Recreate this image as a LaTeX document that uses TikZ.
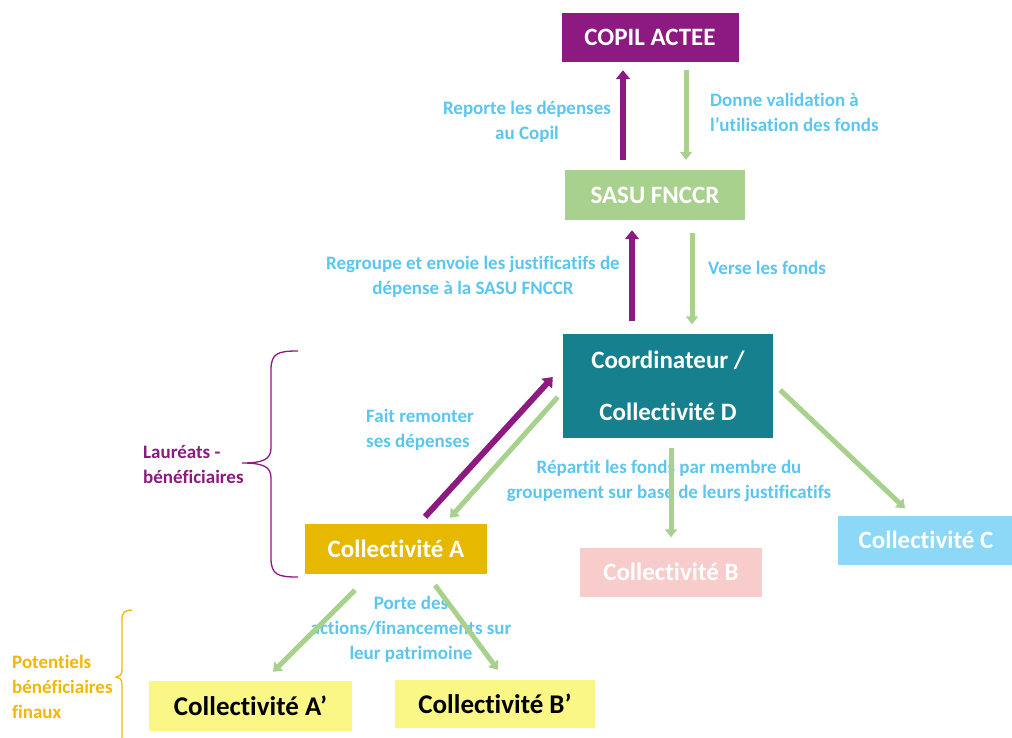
\documentclass[tikz,border=0pt]{standalone}
\usepackage{fontspec}
\setmainfont{Carlito}[Ligatures=NoCommon]
\usetikzlibrary{arrows.meta}
\definecolor{purp}{HTML}{8C1A80}
\definecolor{lgreen}{HTML}{A9D18E}
\definecolor{teal}{HTML}{17808E}
\definecolor{gold}{HTML}{E6B800}
\definecolor{pinkb}{HTML}{F9CCCC}
\definecolor{lblue}{HTML}{8CD8F6}
\definecolor{lyel}{HTML}{FAF787}
\definecolor{labc}{HTML}{5BC6EF}
\definecolor{goldt}{HTML}{F2B705}
\tikzset{
  box/.style={inner sep=0pt, font=\fontsize{25}{28}\selectfont\bfseries, text=white},
  lab/.style={inner sep=0pt, font=\fontsize{19}{25}\selectfont\bfseries, text=labc},
  uparr/.style={draw=purp, line width=6pt, -{Triangle[length=9pt,width=14pt]}},
  dnarr/.style={draw=lgreen, line width=5pt, -{Triangle[length=8pt,width=12pt]}},
}
\begin{document}
\begin{tikzpicture}[x=1pt,y=-1pt]
\useasboundingbox[fill=white] (0,0) rectangle (1012,737);
% boxes
\node[box, fill=purp, minimum width=177pt, minimum height=49pt] (copil) at (650,37.5) {COPIL ACTEE};
\node[box, fill=lgreen, minimum width=180pt, minimum height=50pt] (sasu) at (655,195) {SASU FNCCR};
\node[box, fill=teal, minimum width=210pt, minimum height=104pt, align=center, font=\fontsize{25}{52}\selectfont\bfseries] (coord) at (668,385.5) {Coordinateur /\\Collectivité D};
\node[box, fill=gold, minimum width=182pt, minimum height=50pt] (colA) at (396,549) {Collectivité A};
\node[box, fill=pinkb, minimum width=182pt, minimum height=49pt] (colB) at (671,572) {Collectivité B};
\node[box, fill=lblue, minimum width=176pt, minimum height=49pt] (colC) at (926,540) {Collectivité C};
\node[box, fill=lyel, text=black, minimum width=203pt, minimum height=50pt, font=\fontsize{27}{30}\selectfont\bfseries] (colAp) at (250.5,706) {Collectivité A’};
\node[box, fill=lyel, text=black, minimum width=200pt, minimum height=48pt, font=\fontsize{27}{30}\selectfont\bfseries] (colBp) at (495,704) {Collectivité B’};
% labels
\node[lab, align=center] (l1) at (527,122) {Reporte les dépenses\\au Copil};
\node[lab, align=left, anchor=west] (l2) at (710,112) {Donne validation à\\l’utilisation des fonds};
\node[lab, align=center] (l3) at (473,277) {Regroupe et envoie les justificatifs de\\dépense à la SASU FNCCR};
\node[lab, anchor=west] (l4) at (708,268) {Verse les fonds};
\node[lab, align=left, anchor=west] (l5) at (366,430) {Fait remonter\\ses dépenses};
\node[lab, align=center] (l6) at (669,481) {Répartit les fonds par membre du\\groupement sur base de leurs justificatifs};
\node[lab, align=center] (l7) at (411,629) {Porte des\\actions/financements sur\\leur patrimoine};
\node[lab, align=left, anchor=west, text=purp] (l8) at (143,465) {Lauréats -\\bénéficiaires};
\node[lab, align=left, anchor=west, text=goldt] (l9) at (12,687) {Potentiels\\bénéficiaires\\finaux};
% arrows
\draw[uparr] ([shift={(-32,-10)}]sasu.north) -- ([shift={(-27,8)}]copil.south);
\draw[dnarr] ([shift={(36,8)}]copil.south) -- ([shift={(31,-10)}]sasu.north);
\draw[uparr] ([shift={(-36,-12)}]coord.north) -- ([shift={(-23,10)}]sasu.south);
\draw[dnarr] ([shift={(37,13)}]sasu.south) -- ([shift={(24,-9)}]coord.north);
\draw[uparr] ([shift={(29,-7)}]colA.north) -- ([shift={(-10,-8.5)}]coord.west);
\draw[dnarr] ([shift={(-5,11.5)}]coord.west) -- ([shift={(54,-6)}]colA.north);
\draw[dnarr] ([shift={(3,10)}]coord.south) -- ([shift={(0,-10)}]colB.north);
\draw[dnarr] ([shift={(7,4.5)}]coord.east) -- ([shift={(-21,-7)}]colC.north);
\draw[dnarr] ([shift={(-41,16)}]colA.south) -- ([shift={(22.5,-9)}]colAp.north);
\draw[dnarr] ([shift={(39,11)}]colA.south) -- ([shift={(3,-10)}]colBp.north);
% braces
\coordinate (b1t) at (298,351);
\coordinate (b1b) at (298,577);
\coordinate (b1m) at (242,463);
\draw[purp, line width=1.3pt] (b1t) .. controls (278,351) and (271,353) .. (271,370)
  -- (271,448) .. controls (271,460) and (262,463) .. (b1m)
  .. controls (262,463) and (271,466) .. (271,478)
  -- (271,558) .. controls (271,575) and (278,577) .. (b1b);
\coordinate (b2t) at (132,610);
\coordinate (b2m) at (116,677);
\draw[goldt, line width=1.3pt] (b2t) .. controls (126,610) and (122,612) .. (122,619)
  -- (122,670) .. controls (122,675) and (119,677) .. (b2m)
  .. controls (119,677) and (122,679) .. (122,684) -- (122,740);
\end{tikzpicture}
\end{document}
